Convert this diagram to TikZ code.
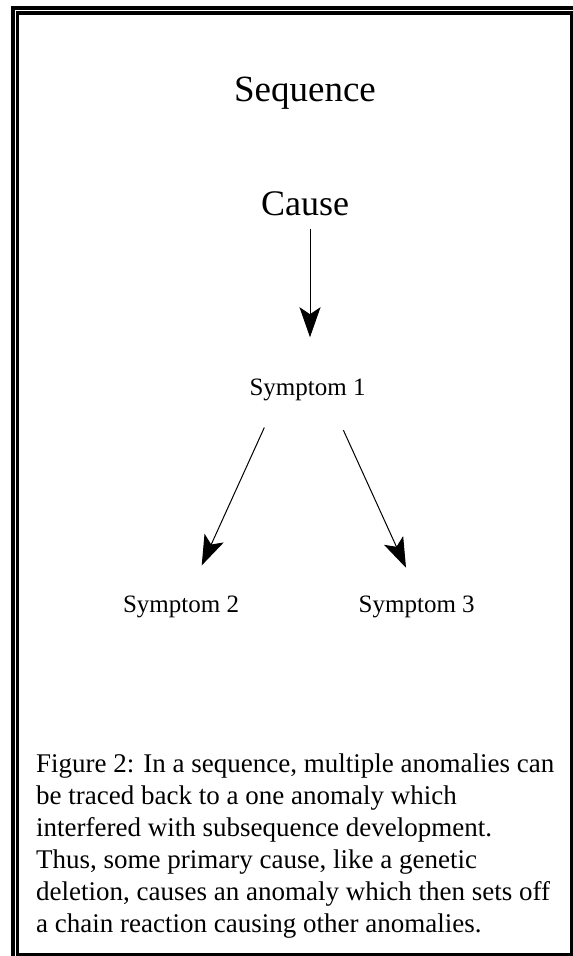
\documentclass[tikz,border=0pt]{standalone}
\usepackage{fontspec}
\setmainfont{Liberation Serif}
\usetikzlibrary{arrows.meta}

\tikzset
{
  px/.style={x=1pt,y=-1pt},%按像素坐标, y 向下
  bigtext/.style={font=\fontsize{36}{40}\selectfont,inner sep=0pt,anchor=base},
  midtext/.style={font=\fontsize{25}{30}\selectfont,inner sep=0pt,anchor=base},
  captext/.style={font=\fontsize{27}{32}\selectfont,inner sep=0pt,anchor=base west},
  conn/.style={line width=1pt,-{Stealth[length=30pt,width=21pt,inset=7pt]}}
}

\begin{document}
\begin{tikzpicture}[px]
\useasboundingbox (0,0) rectangle (573,956);
%外框: 双线
\draw[line width=4pt] (12.5,956) -- (12.5,8) -- (573,8);
\draw[line width=3.5pt] (17.5,13) rectangle (571.5,954.5);

\node[bigtext,font=\fontsize{37}{40}\selectfont] (title) at (305,101) {Sequence};
\node[bigtext] (cause) at (305,215) {Cause};
\node[midtext] (sym1) at (307.5,395) {Symptom 1};
\node[midtext] (sym2) at (181,612) {Symptom 2};
\node[midtext] (sym3) at (416.7,612) {Symptom 3};

\draw[conn,shorten <=13pt,shorten >=41pt] ([xshift=5pt]cause.south) -- ([xshift=2.5pt]sym1.north);
\draw[conn] ([xshift=15pt,yshift=-27pt]sym1.south west) -- ([xshift=20.7pt,yshift=29.8pt]sym2.north);
\draw[conn] ([xshift=-22.3pt,yshift=-29.6pt]sym1.south east) -- ([xshift=-10.7pt,yshift=27.5pt]sym3.north);

%图注, 逐行放置
\foreach \i/\t in
{
  0/{Figure 2: In a sequence, multiple anomalies can},
  1/{be traced back to a one anomaly which},
  2/{interfered with subsequence development.},
  3/{Thus, some primary cause, like a genetic},
  4/{deletion, causes an anomaly which then sets off},
  5/{a chain reaction causing other anomalies.}
}
{
  \node[captext] (cap\i) at (36,772+32*\i) {\t};
}
\end{tikzpicture}
\end{document}
